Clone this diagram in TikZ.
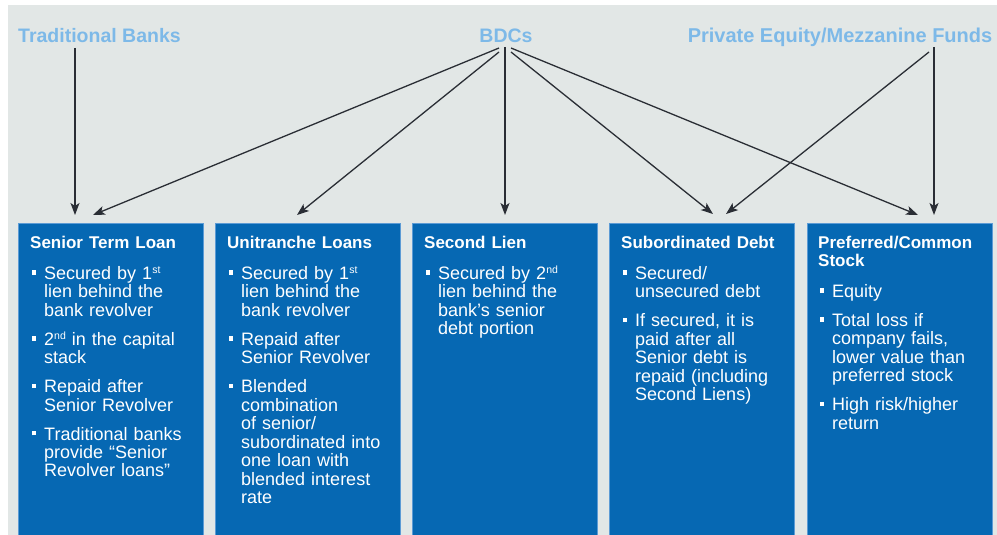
\documentclass[tikz,border=0pt]{standalone}
\usepackage{fontspec}
\setmainfont{Liberation Sans}
\usetikzlibrary{arrows.meta,calc}

\definecolor{bggray}{HTML}{E2E7E6}
\definecolor{boxblue}{HTML}{0668B3}
\definecolor{boxedge}{HTML}{5C9BD5}
\definecolor{srcblue}{HTML}{7DB9E8}
\definecolor{arrowgray}{HTML}{2A2E35}

% box heading, bulleted entries, forced line break and ordinal suffix
\newcommand\boxtitle[1]{\lineskiplimit=-10pt
  {\fontsize{17}{18}\selectfont\bfseries #1\par}\vspace{12.5pt}}
\newcommand\bitem[1]{\noindent\hangindent=14pt\hangafter=1%
  \makebox[14pt][l]{\hspace{1.5pt}\rule[4.5pt]{4.5pt}{4.5pt}}#1\par\vspace{10.5pt}}
\newcommand\nl{\hfil\break}
\newcommand\ordsuf[1]{\raisebox{5.5pt}{\fontsize{10.5}{10.5}\selectfont #1}}

\tikzset{
  source/.style={text=srcblue, font=\fontsize{19.5}{20}\selectfont\bfseries, inner sep=0pt},
  tierbox/.style={rectangle, fill=boxblue, draw=boxedge, line width=0.8pt,
    minimum width=185pt, minimum height=314pt, anchor=north west, inner sep=0pt},
  body/.style={text=white, text width=170pt, align=left, inner sep=0pt, anchor=base west,
    font=\fontsize{18}{18.5}\selectfont},
  feed/.style={draw=arrowgray, line width=1.3pt,
    -{Stealth[length=12pt,width=9pt,inset=3pt]}},
}

\begin{document}
\begin{tikzpicture}[x=1pt,y=-1pt]
\useasboundingbox (0,0) rectangle (997,535);
\fill[bggray] (8,5) rectangle (997,540);

% funding sources
\node[source, anchor=base west] (tb) at (18,43) {Traditional Banks};
\node[source, anchor=base] (bdc) at (506,43) {BDCs};
\node[source, anchor=base, font=\fontsize{20}{20}\selectfont\bfseries] (pe) at (840,43) {Private Equity/Mezzanine Funds};

% capital-structure tiers
\node[tierbox] (b1) at (18,223) {};
\node[tierbox] (b2) at (215,223) {};
\node[tierbox] (b3) at (412,223) {};
\node[tierbox] (b4) at (609,223) {};
\node[tierbox] (b5) at (807,223) {};

\node[body] (t1) at ($(b1.north west)+(12,25)$) {%
  \boxtitle{Senior Term Loan}
  \bitem{Secured by 1\ordsuf{st}\nl lien behind the\nl bank revolver}
  \bitem{2\ordsuf{nd} in the capital\nl stack}
  \bitem{Repaid after\nl Senior Revolver}
  \bitem{Traditional banks\nl provide “Senior\nl Revolver loans”}};

\node[body] (t2) at ($(b2.north west)+(12,25)$) {%
  \boxtitle{Unitranche Loans}
  \bitem{Secured by 1\ordsuf{st}\nl lien behind the\nl bank revolver}
  \bitem{Repaid after\nl Senior Revolver}
  \bitem{Blended\nl combination\nl of senior/\nl subordinated into\nl one loan with\nl blended interest\nl rate}};

\node[body] (t3) at ($(b3.north west)+(12,25)$) {%
  \boxtitle{Second Lien}
  \bitem{Secured by 2\ordsuf{nd}\nl lien behind the\nl bank’s senior\nl debt portion}};

\node[body] (t4) at ($(b4.north west)+(12,25)$) {%
  \boxtitle{Subordinated Debt}
  \bitem{Secured/\nl unsecured debt}
  \bitem{If secured, it is\nl paid after all\nl Senior debt is\nl repaid (including\nl Second Liens)}};

\node[body] (t5) at ($(b5.north west)+(11,25)$) {%
  \boxtitle{Preferred/Common\\Stock}
  \bitem{Equity}
  \bitem{Total loss if\nl company fails,\nl lower value than\nl preferred stock}
  \bitem{High risk/higher\nl return}};

% connector start points under the source labels
\coordinate (tbs) at ($(tb.base west)+(57,5)$);
\coordinate (bdcA) at ($(bdc.base)+(-7,5)$);
\coordinate (bdcB) at ($(bdc.base)+(-7,9)$);
\coordinate (bdcC) at ($(bdc.base)+(-1,4)$);
\coordinate (bdcD) at ($(bdc.base)+(5,9)$);
\coordinate (bdcE) at ($(bdc.base)+(5,5)$);
\coordinate (peA) at ($(pe.base)+(89,9)$);
\coordinate (peB) at ($(pe.base)+(94,4)$);

% connector end points above the tiers
\coordinate (in1a) at ($(b1.north west)+(57,-8)$);
\coordinate (in1b) at ($(b1.north west)+(75,-8)$);
\coordinate (in2) at ($(b2.north west)+(82,-8)$);
\coordinate (in3) at ($(b3.north west)+(93,-8)$);
\coordinate (in4a) at ($(b4.north west)+(104,-9)$);
\coordinate (in4b) at ($(b4.north west)+(117,-9)$);
\coordinate (in5a) at ($(b5.north west)+(111,-8)$);
\coordinate (in5b) at ($(b5.north west)+(127,-8)$);

\draw[feed] (tbs) -- (in1a);
\draw[feed] (bdcA) -- (in1b);
\draw[feed] (bdcB) -- (in2);
\draw[feed] (bdcC) -- (in3);
\draw[feed] (bdcD) -- (in4a);
\draw[feed] (bdcE) -- (in5a);
\draw[feed] (peA) -- (in4b);
\draw[feed] (peB) -- (in5b);
\end{tikzpicture}
\end{document}
